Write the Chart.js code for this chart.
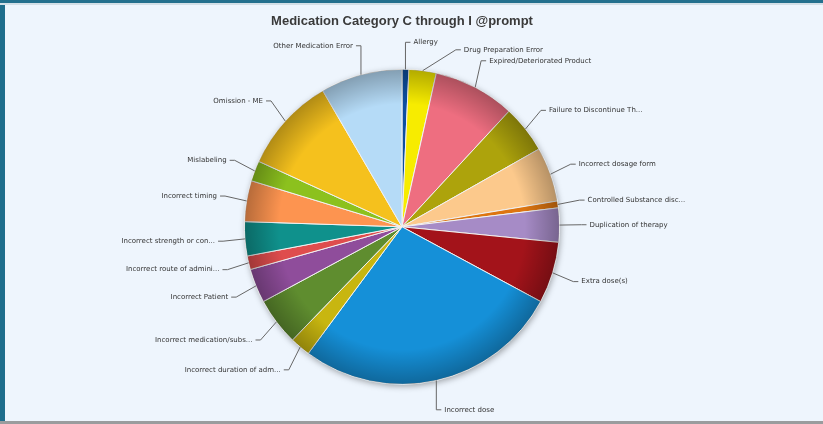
<!DOCTYPE html>
<html>
<head>
<meta charset="utf-8">
<title>Medication Category C through I @prompt</title>
<script src="https://cdn.jsdelivr.net/npm/chart.js@4.4.0/dist/chart.umd.min.js"></script>
<style>
  html, body { margin: 0; padding: 0; }
  body { width: 823px; height: 424px; background: #eef5fd; position: relative; overflow: hidden; }
  .edge-left { position: absolute; left: 0; top: 0; width: 5px; height: 424px; background: #1e6d8c; }
  .edge-top { position: absolute; left: 0; top: 0; width: 823px; height: 3px; background: #23708e; border-bottom: 2px solid #d3dfe7; }
  .edge-bottom { position: absolute; left: 0; bottom: 0; width: 823px; height: 3px; background: #9a9c9e; }
  #chart { position: absolute; left: 0; top: 0; }
</style>
</head>
<body>
<div class="edge-left"></div>
<div class="edge-top"></div>
<div class="edge-bottom"></div>
<canvas id="chart" width="823" height="424"></canvas>
<script>
// ===================== DATA =====================
const categories = [
  'Allergy', 'Drug Preparation Error', 'Expired/Deteriorated Product',
  'Failure to Discontinue Th...', 'Incorrect dosage form', 'Controlled Substance disc...',
  'Duplication of therapy', 'Extra dose(s)', 'Incorrect dose',
  'Incorrect duration of adm...', 'Incorrect medication/subs...', 'Incorrect Patient',
  'Incorrect route of admini...', 'Incorrect strength or con...', 'Incorrect timing',
  'Mislabeling', 'Omission - ME', 'Other Medication Error'
];
const errorCounts = [1, 4, 12, 7, 8, 1, 5, 9, 39, 3, 7, 5, 2, 5, 6, 3, 14, 12];
const sliceColors = [
  '#0d4fa0', '#f7ec00', '#ee6e80', '#ada30c', '#fcc98c', '#dd7510',
  '#a68bc6', '#a3131a', '#1590d8', '#c8b610', '#5f8d2f', '#8f4d9b',
  '#df4d4d', '#0f918c', '#fd9450', '#8cc11e', '#f5c11d', '#b5dbf7'
];

// ===================== PIE DECORATION + OUTSIDE LABELS =====================
const outsideLabels = {
  id: 'outsideLabels',
  beforeDatasetsDraw(chart) {
    const arc = chart.getDatasetMeta(0).data[0];
    if (!arc) return;
    const ctx = chart.ctx;
    ctx.save();
    ctx.shadowColor = 'rgba(0,0,0,0.35)';
    ctx.shadowBlur = 6;
    ctx.shadowOffsetX = 1;
    ctx.shadowOffsetY = 2;
    ctx.fillStyle = '#dddddd';
    ctx.beginPath();
    ctx.arc(arc.x, arc.y, arc.outerRadius, 0, Math.PI * 2);
    ctx.fill();
    ctx.restore();
  },
  afterDatasetsDraw(chart) {
    const arcs = chart.getDatasetMeta(0).data;
    if (!arcs.length) return;
    const ctx = chart.ctx;
    const cx = arcs[0].x, cy = arcs[0].y, r = arcs[0].outerRadius;

    // rim shading
    ctx.save();
    ctx.beginPath();
    ctx.arc(cx, cy, r, 0, Math.PI * 2);
    ctx.clip();
    const g = ctx.createRadialGradient(cx, cy, 0, cx, cy, r);
    g.addColorStop(0, 'rgba(0,0,0,0)');
    g.addColorStop(0.78, 'rgba(0,0,0,0)');
    g.addColorStop(1, 'rgba(0,0,0,0.28)');
    ctx.fillStyle = g;
    ctx.fillRect(cx - r, cy - r, r * 2, r * 2);
    ctx.restore();

    // label positions
    const R = r + 30;
    const items = arcs.map((arc, i) => {
      const a = (arc.startAngle + arc.endAngle) / 2;
      return {
        i, a,
        side: Math.cos(a) >= 0 ? 1 : -1,
        ax: cx + r * Math.cos(a), ay: cy + r * Math.sin(a),
        nx: cx + R * Math.cos(a), ny: cy + R * Math.sin(a)
      };
    });
    const top = cy - R + 3, bottom = cy + R - 3, gap = 7.5;
    [1, -1].forEach(side => {
      const list = items.filter(p => p.side === side).sort((p, q) => p.ny - q.ny);
      let prev = -Infinity;
      list.forEach(p => { p.y = Math.max(p.ny, prev + gap, top); prev = p.y; });
      let next = Infinity;
      for (let k = list.length - 1; k >= 0; k--) {
        const p = list[k];
        p.y = Math.min(p.y, next - gap, bottom);
        next = p.y;
      }
      list.forEach(p => {
        const clamped = p.y <= top + 0.01 || p.y >= bottom - 0.01;
        let x = clamped ? p.nx : cx + side * Math.sqrt(Math.max(R * R - (p.y - cy) * (p.y - cy), 0));
        x = side > 0 ? Math.max(x, p.ax + 8) : Math.min(x, p.ax - 8);
        p.x = x;
      });
    });

    // connectors and texts
    ctx.save();
    ctx.strokeStyle = '#666666';
    ctx.lineWidth = 1;
    ctx.fillStyle = '#333333';
    ctx.font = '7px "DejaVu Sans"';
    ctx.textBaseline = 'middle';
    items.forEach(p => {
      const lx = p.x - p.side * 3;
      const bx = lx - p.side * 5;
      ctx.beginPath();
      ctx.moveTo(p.ax, p.ay);
      ctx.lineTo(bx, p.y);
      ctx.lineTo(lx, p.y);
      ctx.stroke();
      ctx.textAlign = p.side > 0 ? 'left' : 'right';
      ctx.fillText(categories[p.i], p.x, p.y);
    });
    ctx.restore();
  }
};

// ===================== CHART =====================
new Chart(document.getElementById('chart'), {
  type: 'pie',
  data: {
    labels: categories,
    datasets: [{
      data: errorCounts,
      backgroundColor: sliceColors,
      borderColor: '#f2f2f2',
      borderWidth: 1
    }]
  },
  options: {
    responsive: false,
    animation: false,
    layout: { padding: { top: 10, bottom: 39, left: 244, right: 263 } },
    plugins: {
      legend: { display: false },
      tooltip: { enabled: false },
      title: {
        display: true,
        text: 'Medication Category C through I @prompt',
        color: '#3a3a3a',
        font: { family: '"Liberation Sans"', size: 13, weight: 'bold' },
        padding: { top: 4, bottom: 39 }
      }
    }
  },
  plugins: [outsideLabels]
});
</script>
</body>
</html>
